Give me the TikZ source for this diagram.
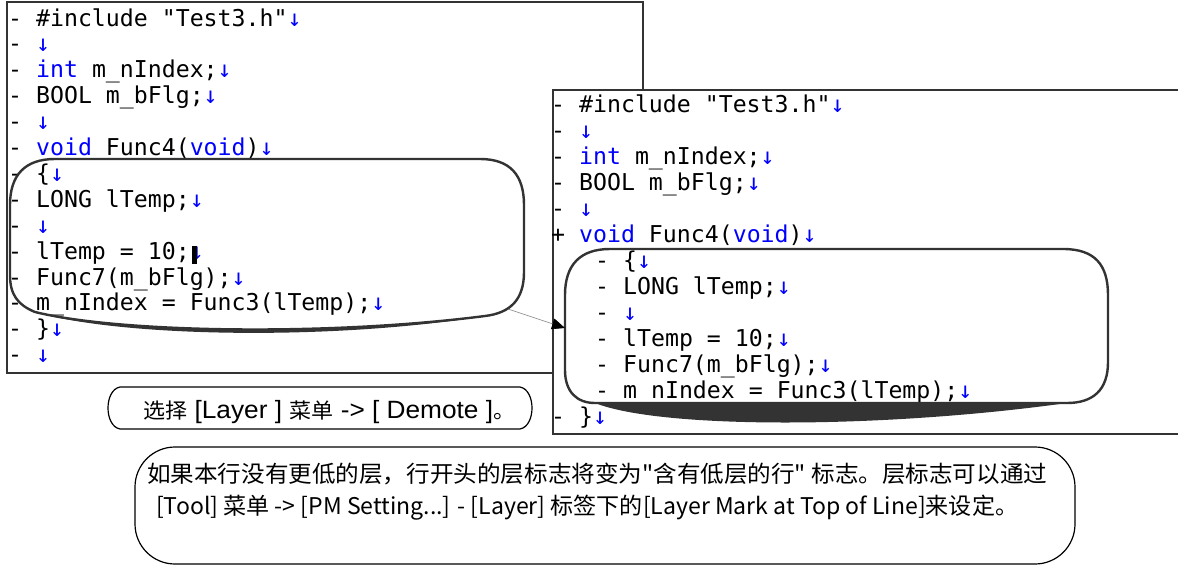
\documentclass[tikz,border=0pt]{standalone}
\usepackage{graphicx}
\usepackage{fontspec}
\setmainfont{Liberation Sans}
\setmonofont{DejaVu Sans Mono}
\newfontfamily\cjk{Noto Sans CJK SC}
\usetikzlibrary{arrows.meta}
\definecolor{kwblue}{RGB}{0,0,255}
\definecolor{edgegray}{RGB}{51,51,51}
\newcommand\nl{\textcolor{kwblue}{↓}}
\newcommand\kw[1]{\textcolor{kwblue}{#1}}
\newcommand\zh[1]{{\cjk\fontsize{21}{24}\selectfont #1}}
\newsavebox\fitbox
\newcommand\fitto[2]{\sbox\fitbox{#2}\resizebox{#1}{\ht\fitbox}{\usebox\fitbox}}
\begin{document}
\begin{tikzpicture}[x=1pt,y=-1pt,
  code/.style={anchor=base west, inner sep=0pt, font=\ttfamily\fontsize{23.2}{24}\selectfont},
  panel/.style={draw=edgegray, line width=2pt, fill=white},
  blob/.style={draw=edgegray, line width=2.4pt, line join=round},
  callout/.style={draw=black, line width=1.2pt}]
\useasboundingbox (0,0) rectangle (1178,565);
\fill[white] (0,0) rectangle (1178,565);
% left panel
\draw[panel] (7,2) rectangle (643,373);
\node[code] (l0) at (8,26) {- \#include "Test3.h"\nl};
\node[code] (l1) at (8,51.9) {- \nl};
\node[code] (l2) at (8,77.8) {- \kw{int} m\_nIndex;\nl};
\node[code] (l3) at (8,103.7) {- BOOL m\_bFlg;\nl};
\node[code] (l4) at (8,129.6) {- \nl};
\node[code] (l5) at (8,155.5) {- \kw{void} Func4(\kw{void})\nl};
\node[code] (l6) at (8,181.4) {- \{\nl};
\node[code] (l7) at (8,207.3) {- LONG lTemp;\nl};
\node[code] (l8) at (8,233.2) {- \nl};
\node[code] (l9) at (8,259.1) {- lTemp = 10;\nl};
\node[code] (l10) at (8,285) {- Func7(m\_bFlg);\nl};
\node[code] (l11) at (8,310.9) {- m\_nIndex = Func3(lTemp);\nl};
\node[code] (l12) at (8,336.8) {- \}\nl};
\node[code] (l13) at (8,362.7) {- \nl};
\fill[black] (192,246) rectangle (196.5,264);
% left highlight blob
\draw[blob] (10,205) .. controls (10,175) and (25,159) .. (55,159) -- (480,159)
  .. controls (510,159) and (524,175) .. (524,205) -- (524,272)
  .. controls (524,300) and (510,313) .. (485,316)
  .. controls (330,336) and (120,333) .. (35,312)
  .. controls (18,305) and (10,295) .. (10,275) -- cycle;
\fill[edgegray] (485,316) .. controls (330,341) and (120,337) .. (35,312)
  .. controls (120,333) and (330,336) .. (485,316) -- cycle;
\coordinate (lbcorner) at (508,309);
% right panel
\draw[panel] (553,90) rectangle (1200,434);
\node[code] (r0) at (551,112) {- \#include "Test3.h"\nl};
\node[code] (r1) at (551,138) {- \nl};
\node[code] (r2) at (551,164) {- \kw{int} m\_nIndex;\nl};
\node[code] (r3) at (551,190) {- BOOL m\_bFlg;\nl};
\node[code] (r4) at (551,216) {- \nl};
\node[code] (r5) at (551,242) {+ \kw{void} Func4(\kw{void})\nl};
\node[code] (r6) at (595,268) {- \{\nl};
\node[code] (r7) at (595,294) {- LONG lTemp;\nl};
\node[code] (r8) at (595,320) {- \nl};
\node[code] (r9) at (595,346) {- lTemp = 10;\nl};
\node[code] (r10) at (595,372) {- Func7(m\_bFlg);\nl};
\node[code] (r11) at (595,398) {- m\_nIndex = Func3(lTemp);\nl};
\node[code] (r12) at (551,424) {- \}\nl};
% right highlight blob
\draw[blob] (565,295) .. controls (565,265) and (580,249) .. (610,249) -- (1063,249)
  .. controls (1095,249) and (1108,265) .. (1108,295) -- (1108,362)
  .. controls (1108,390) and (1093,403) .. (1067,403) -- (595,403)
  .. controls (577,403) and (565,392) .. (565,370) -- cycle;
\fill[edgegray] (595,403) .. controls (660,429) and (880,429) .. (1067,403) -- cycle;
\coordinate (rbleft) at (565,328);
% arrow
\draw[gray, line width=0.6pt, -{Triangle[length=13pt,width=11pt,color=black]}] (lbcorner) -- (rbleft);
% small callout
\draw[callout] (120,387) -- (520,387) .. controls (536,390) and (536,426) .. (520,429)
  -- (120,429) .. controls (104,426) and (104,390) .. (120,387) -- cycle;
\node[anchor=base west, inner sep=0pt, font=\fontsize{25}{26}\selectfont] (menu) at (143,418)
  {\fitto{372pt}{\zh{选择} [Layer ] \zh{菜单} -> [ Demote ]\zh{。}}};
% big callout
\draw[callout, rounded corners=40pt] (135,447) rectangle (1075,564);
\node[anchor=base west, inner sep=0pt, font=\cjk\fontsize{23}{26}\selectfont] (note1) at (147,482)
  {\fitto{900pt}{如果本行没有更低的层，行开头的层标志将变为"含有低层的行" 标志。层标志可以通过}};
\node[anchor=base west, inner sep=0pt, font=\cjk\fontsize{23}{26}\selectfont] (note2) at (156,514)
  {\fitto{862pt}{[Tool] 菜单 -> [PM Setting...] - [Layer] 标签下的[Layer Mark at Top of Line]来设定。}};
\end{tikzpicture}
\end{document}
